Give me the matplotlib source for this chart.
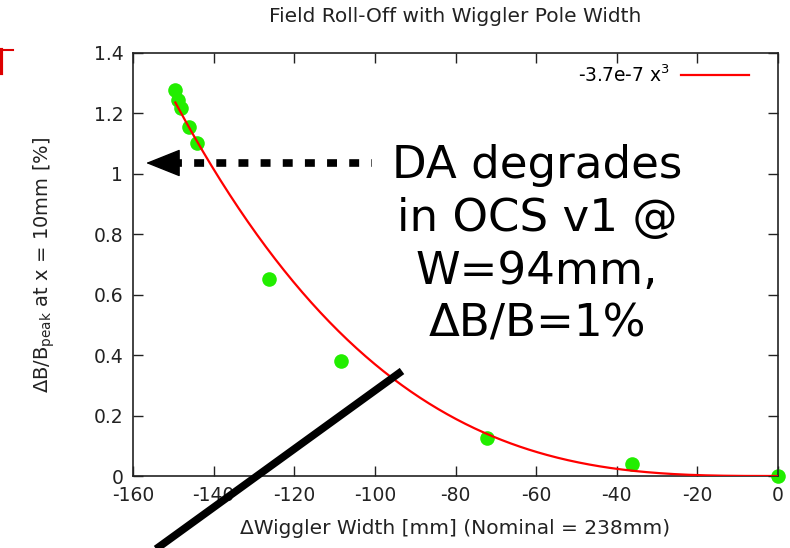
import matplotlib
matplotlib.use("Agg")
import matplotlib.pyplot as plt
import numpy as np
from matplotlib.lines import Line2D

# Data
width_delta = [-149.6, -148.8, -148.1, -146.1, -144.1, -126.3, -108.4, -72.2, -36.2, 0.0]
roll_off = [1.278, 1.245, 1.219, 1.156, 1.103, 0.652, 0.381, 0.126, 0.040, 0.0]
fit_coef = -3.7e-7
fit_range = [-149.5, 0.0]
xticks = [-160, -140, -120, -100, -80, -60, -40, -20, 0]
yticks = [0, 0.2, 0.4, 0.6, 0.8, 1.0, 1.2, 1.4]
ytick_labels = ["0", "0.2", "0.4", "0.6", "0.8", "1", "1.2", "1.4"]

plt.rcParams['font.family'] = ['DejaVu Sans']
plt.rcParams['axes.unicode_minus'] = False
plt.rcParams['mathtext.fontset'] = 'dejavusans'

fig = plt.figure(figsize=(7.9, 5.48), dpi=100)
ax = fig.add_axes([133/790, 1-476/548, (778-133)/790, (476-53)/548])

xf = np.linspace(fit_range[0], fit_range[1], 400)
ax.plot(xf, fit_coef * xf**3, color='#ff0000', lw=1.6, zorder=3,
        label=r'-3.7e-7 x$^3$')
ax.plot(width_delta, roll_off, 'o', color='#22ee00', ms=10.5, mec='none',
        zorder=2, clip_on=False)

ax.set_xlim(-160, 0)
ax.set_ylim(0, 1.4)
ax.set_xticks(xticks)
ax.set_yticks(yticks)
ax.set_yticklabels(ytick_labels)
ax.tick_params(direction='in', length=7, width=1, top=True, right=True,
               labelsize=13.5, pad=7, color='#222222', labelcolor='#222222')
for s in ax.spines.values():
    s.set_linewidth(1.2)
    s.set_color('#222222')

ax.set_title('Field Roll-Off with Wiggler Pole Width', fontsize=14.5, pad=22,
             color='#222222')
ax.set_xlabel('ΔWiggler Width [mm] (Nominal = 238mm)', fontsize=14.5, labelpad=10,
              color='#222222')
ax.set_ylabel(r'ΔB/B$_{\mathregular{peak}}$ at x = 10mm [%]', fontsize=14,
              labelpad=26, color='#222222')

leg = ax.legend(loc='upper right', bbox_to_anchor=(0.975, 1.005), frameon=False,
                fontsize=13.5, handlelength=3.6, handletextpad=0.6,
                markerfirst=False, borderaxespad=0.3)

# Annotation text
fig.text(537/790, 1-245/548, 'DA degrades\nin OCS v1 @\nW=94mm,\nΔB/B=1%',
         fontsize=32.5, family='DejaVu Sans', ha='center', va='center',
         linespacing=1.29)

# Dotted arrow
fig.add_artist(Line2D([172/790, 372/790], [1-163/548, 1-163/548],
                      transform=fig.transFigure, color='black', lw=5.5,
                      linestyle=(0, (1.3, 1.6)), solid_capstyle='butt',
                      dash_capstyle='butt'))
ax.annotate('', xy=(146/790, 1-163/548), xycoords='figure fraction',
            xytext=(172/790, 1-163/548), textcoords='figure fraction',
            arrowprops=dict(arrowstyle='-|>,head_length=1.5,head_width=0.6',
                            color='black', lw=1, mutation_scale=15,
                            shrinkA=0, shrinkB=0))

# Black diagonal line
fig.add_artist(Line2D([402/790, 145/790], [1-371/548, 1-557/548],
                      transform=fig.transFigure, color='black', lw=5.5,
                      solid_capstyle='butt'))

# Red fragment at left edge
fig.add_artist(Line2D([0, 13/790], [1-50/548, 1-50/548],
                      transform=fig.transFigure, color='#dd0000', lw=1.5))
fig.add_artist(Line2D([1/790, 1/790], [1-50/548, 1-73/548],
                      transform=fig.transFigure, color='#dd0000', lw=3))

fig.savefig('out.png', dpi=100)
